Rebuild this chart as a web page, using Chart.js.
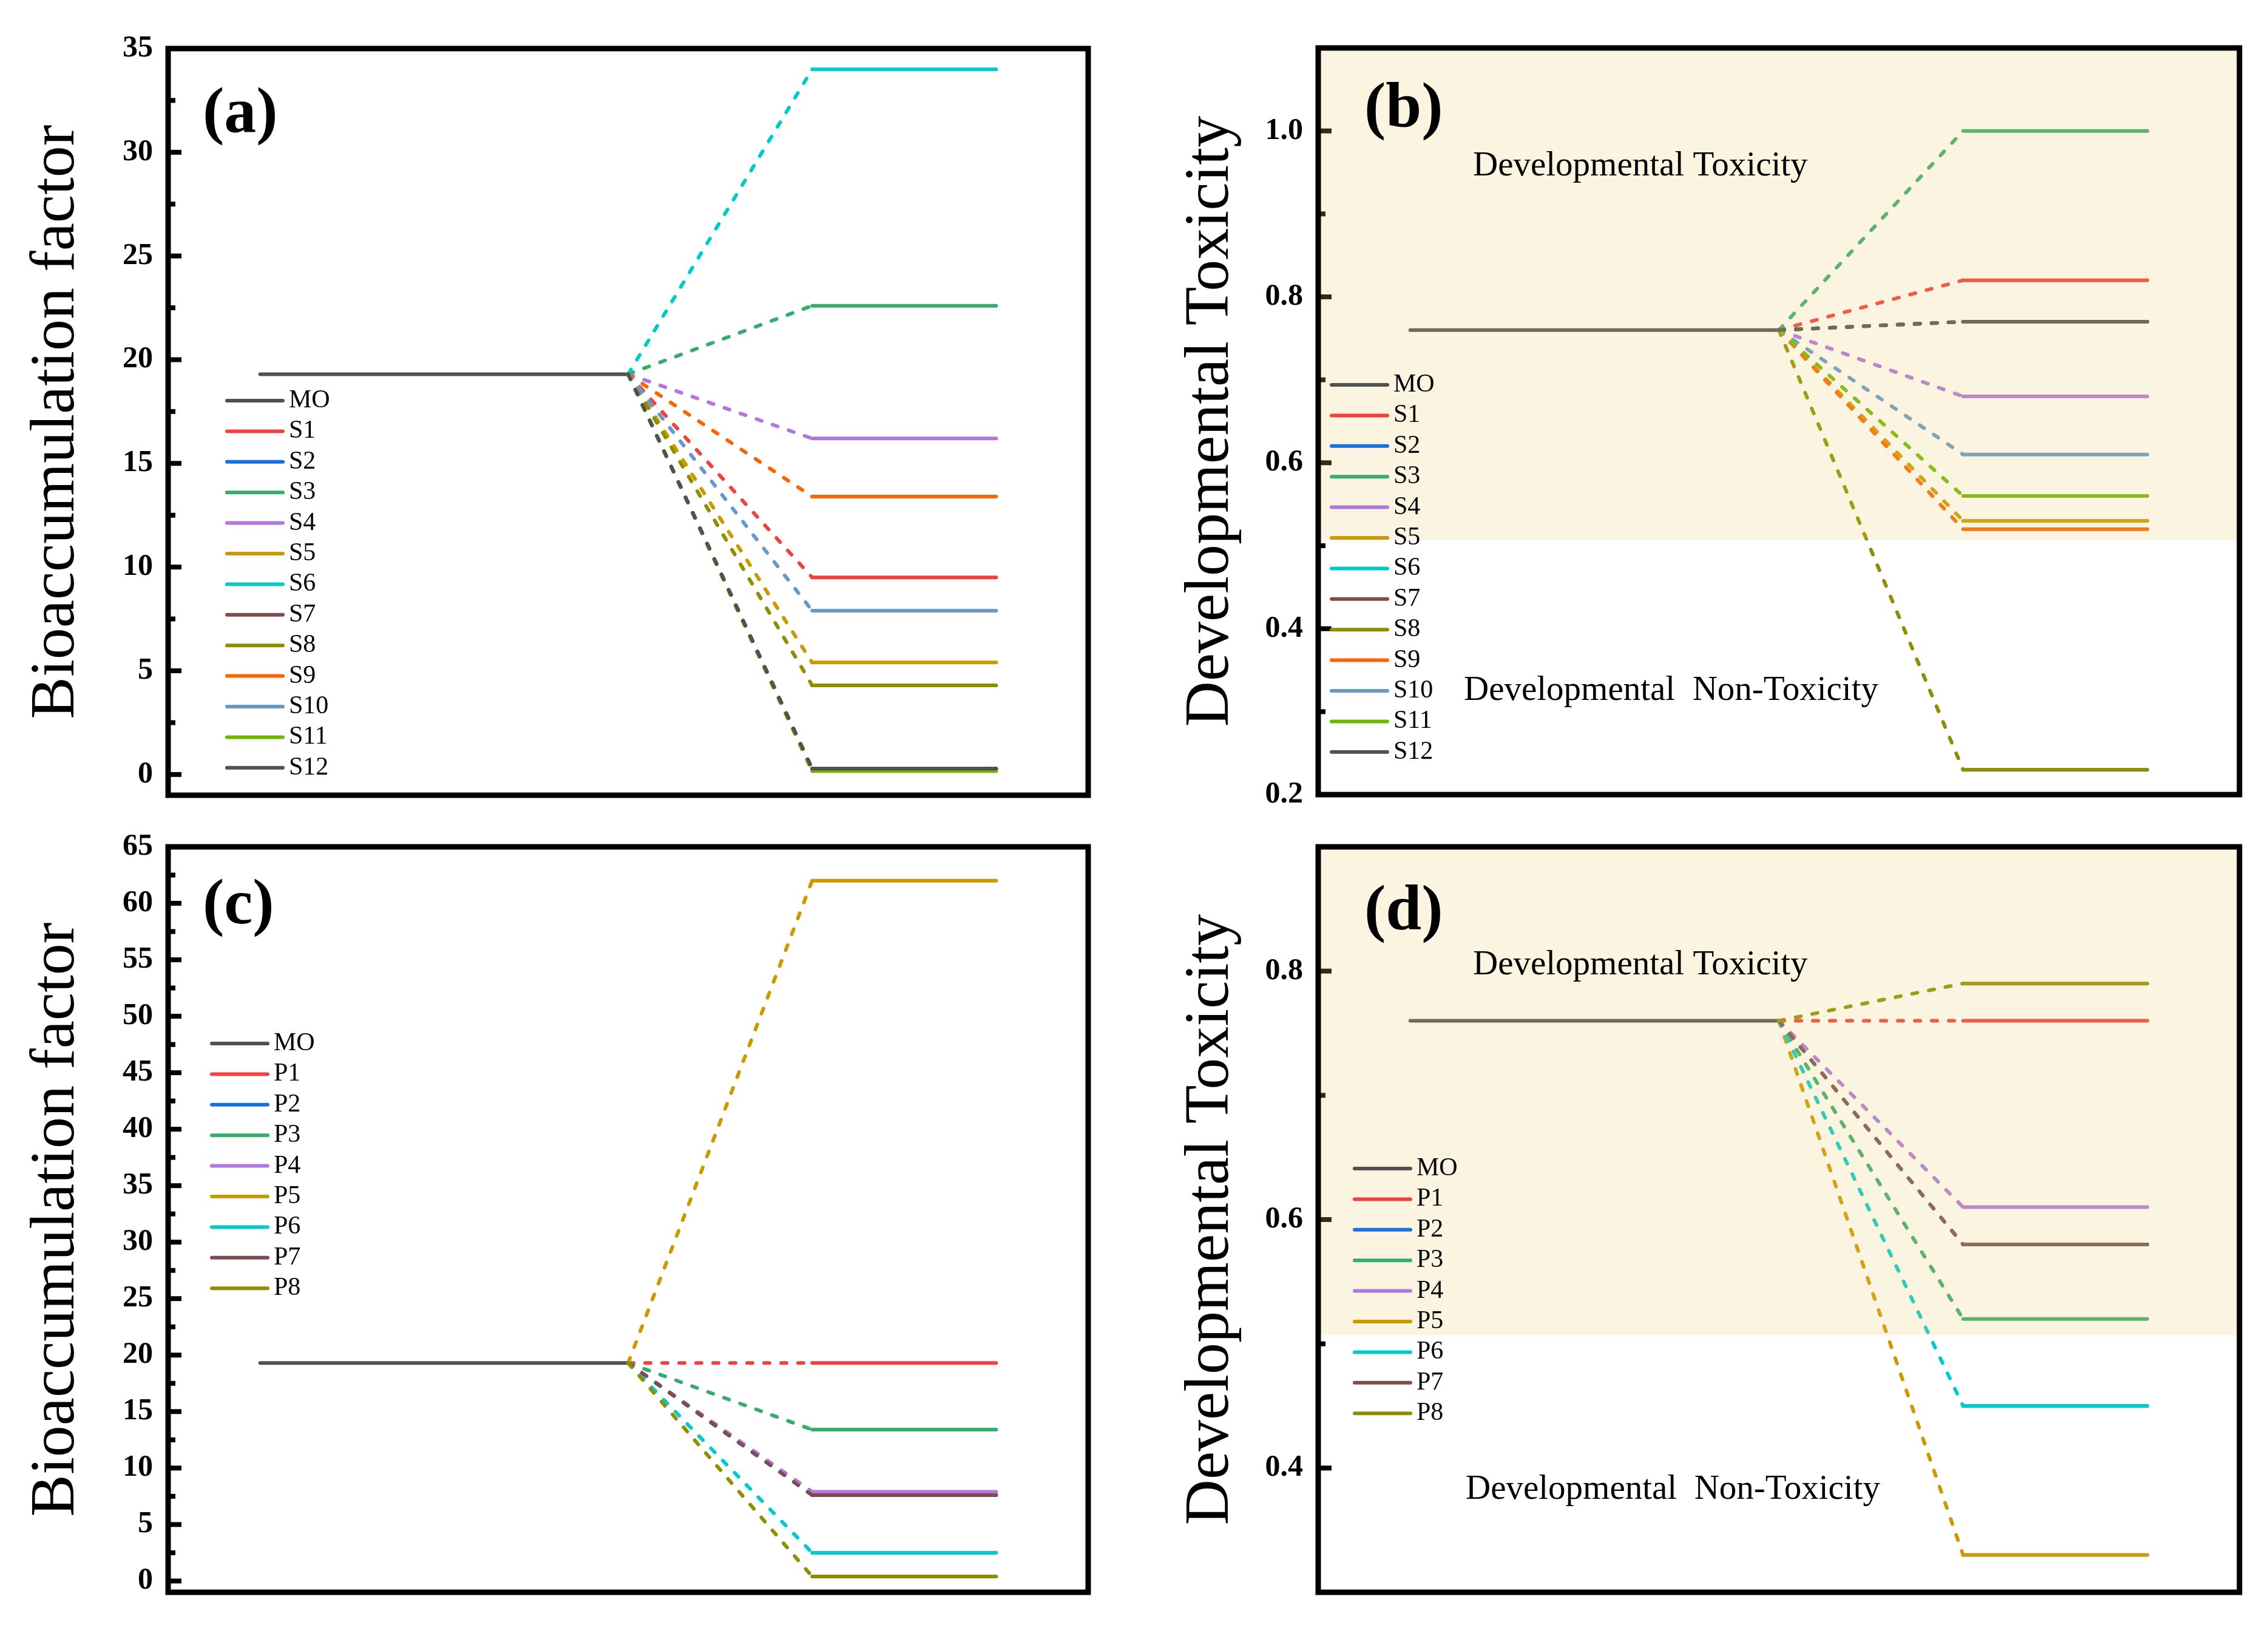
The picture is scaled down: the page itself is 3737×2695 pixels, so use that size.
<!DOCTYPE html>
<html>
<head>
<meta charset="utf-8">
<script src="https://cdn.jsdelivr.net/npm/chart.js@4.4.1/dist/chart.umd.min.js"></script>
<style>
  html, body { margin: 0; padding: 0; background: #fff; }
  body { width: 3737px; height: 2695px; position: relative; overflow: hidden; }
  canvas { position: absolute; }
</style>
</head>
<body>
<canvas id="pa" width="1868" height="1347" style="left:0;top:0"></canvas>
<canvas id="pb" width="1869" height="1347" style="left:1868px;top:0"></canvas>
<canvas id="pc" width="1868" height="1348" style="left:0;top:1347px"></canvas>
<canvas id="pd" width="1869" height="1348" style="left:1868px;top:1347px"></canvas>
<script>
// Origin-style colour list, MO first
const palette = ['#515151', '#F14040', '#1A6FDF', '#37AD6B', '#B177DE', '#CC9900',
  '#00CBCC', '#7D4E4E', '#8E8E00', '#FB6501', '#6699CC', '#6FB802', '#515151'];
// x stages: MO start, MO end / branch, product start, product end
const stageX = [1, 5, 7, 9];

const labelsS = ['MO', 'S1', 'S2', 'S3', 'S4', 'S5', 'S6', 'S7', 'S8', 'S9', 'S10', 'S11', 'S12'];
const bafS = [19.3, 9.5, 0.28, 22.6, 16.2, 5.4, 34.0, 0.28, 4.3, 13.4, 7.9, 0.16, 0.28];
const devS = [0.76, 0.82, 0.77, 1.0, 0.68, 0.53, 0.77, 0.77, 0.23, 0.52, 0.61, 0.56, 0.77];

const labelsP = ['MO', 'P1', 'P2', 'P3', 'P4', 'P5', 'P6', 'P7', 'P8'];
const bafP = [19.3, 19.3, 7.6, 13.4, 7.9, 62.0, 2.5, 7.6, 0.4];
const devP = [0.76, 0.76, 0.58, 0.52, 0.61, 0.33, 0.45, 0.58, 0.79];

const ticksBafS = [0, 5, 10, 15, 20, 25, 30, 35];
const minorBafS = [2.5, 7.5, 12.5, 17.5, 22.5, 27.5, 32.5];
const ticksBafP = [0, 5, 10, 15, 20, 25, 30, 35, 40, 45, 50, 55, 60, 65];
const minorBafP = [2.5, 7.5, 12.5, 17.5, 22.5, 27.5, 32.5, 37.5, 42.5, 47.5, 52.5, 57.5, 62.5];
const ticksDevS = [0.2, 0.4, 0.6, 0.8, 1.0];
const minorDevS = [0.3, 0.5, 0.7, 0.9];
const ticksDevP = [0.4, 0.6, 0.8];
const minorDevP = [0.5, 0.7];

const toxicLimit = 0.507;
const serif = '"Liberation Serif", "Times New Roman", serif';

function buildDatasets(labels, values) {
  const mo = values[0];
  return labels.map((name, i) => {
    const pts = i === 0
      ? [{x: stageX[0], y: mo}, {x: stageX[1], y: mo}]
      : [{x: stageX[1], y: mo}, {x: stageX[2], y: values[i]}, {x: stageX[3], y: values[i]}];
    return {
      label: name,
      data: pts,
      borderColor: palette[i],
      borderWidth: 6,
      borderCapStyle: 'round',
      borderDash: [],
      pointRadius: 0,
      order: -i, // later series on top
      segment: {
        borderDash: ctx => (i > 0 && ctx.p0DataIndex === 0) ? [9, 19] : []
      }
    };
  });
}

function decoPlugin(cfg) {
  return {
    id: 'panelDeco',
    afterDraw(chart) {
      const {ctx, chartArea: a} = chart;
      const y = chart.scales.y;
      const seg = (x1, y1, x2, y2) => { ctx.beginPath(); ctx.moveTo(x1, y1); ctx.lineTo(x2, y2); ctx.stroke(); };
      ctx.save();
      // inward ticks
      ctx.strokeStyle = '#000';
      ctx.lineCap = 'butt';
      ctx.lineWidth = 8;
      cfg.major.forEach(v => { const p = y.getPixelForValue(v); seg(a.left, p, a.left + 22, p); });
      cfg.minor.forEach(v => { const p = y.getPixelForValue(v); seg(a.left, p, a.left + 12, p); });
      // toxicity zone
      if (cfg.shade) {
        const p = y.getPixelForValue(toxicLimit);
        ctx.fillStyle = 'rgba(231, 201, 107, 0.21)';
        ctx.fillRect(a.left, a.top, a.right - a.left, p - a.top);
      }
      // frame
      ctx.lineWidth = 9;
      ctx.strokeRect(a.left, a.top, a.right - a.left, a.bottom - a.top);
      // notes
      ctx.fillStyle = '#000';
      ctx.textBaseline = 'middle';
      ctx.textAlign = 'left';
      ctx.font = '57px ' + serif;
      (cfg.notes || []).forEach(n => ctx.fillText(n.text, n.x, n.y));
      // panel tag
      ctx.font = 'bold 106px ' + serif;
      ctx.fillText(cfg.tag.text, cfg.tag.x, cfg.tag.y);
      // legend
      ctx.font = '42px ' + serif;
      ctx.lineCap = 'round';
      ctx.lineWidth = 6;
      chart.data.datasets.forEach((d, i) => {
        const ly = cfg.legend.y + i * cfg.legend.step;
        ctx.strokeStyle = d.borderColor;
        seg(cfg.legend.x, ly, cfg.legend.x + 92, ly);
        ctx.fillText(d.label, cfg.legend.x + 102, ly);
      });
      ctx.restore();
    }
  };
}

function makeChart(id, cfg) {
  return new Chart(document.getElementById(id), {
    type: 'line',
    data: {datasets: buildDatasets(cfg.labels, cfg.values)},
    options: {
      responsive: false,
      animation: false,
      events: [],
      layout: {padding: cfg.pad},
      plugins: {legend: {display: false}, tooltip: {enabled: false}},
      scales: {
        x: {type: 'linear', min: 0, max: 10, display: false},
        y: {
          type: 'linear', min: cfg.yMin, max: cfg.yMax,
          afterFit: s => { s.width = cfg.axisW; },
          afterBuildTicks: s => { s.ticks = cfg.major.map(v => ({value: v})); },
          grid: {display: false, drawTicks: false},
          border: {display: false},
          ticks: {
            color: '#000', padding: 25,
            font: {family: serif, size: 50, weight: 'bold', lineHeight: 0.4},
            callback: cfg.fmt
          },
          title: {
            display: true, text: cfg.title, color: '#000',
            font: {family: serif, size: 104, weight: 'normal', lineHeight: 1.2},
            padding: {top: cfg.titlePad, bottom: 0}
          }
        }
      }
    },
    plugins: [decoPlugin(cfg)]
  });
}

const intFmt = v => String(v);
const decFmt = v => Number(v).toFixed(1);

makeChart('pa', {
  labels: labelsS, values: bafS, yMin: -1, yMax: 35,
  major: ticksBafS, minor: minorBafS, fmt: intFmt,
  pad: {left: 0, top: 80, right: 75, bottom: 37}, axisW: 277, titlePad: 31,
  title: 'Bioaccumulation factor',
  tag: {text: '(a)', x: 334, y: 190},
  legend: {x: 374, y: 660, step: 50.4}
});

makeChart('pb', {
  labels: labelsS, values: devS, yMin: 0.2, yMax: 1.1,
  major: ticksDevS, minor: minorDevS, fmt: decFmt, shade: true,
  pad: {left: 0, top: 79, right: 47, bottom: 38}, axisW: 304, titlePad: 65,
  title: 'Developmental Toxicity',
  tag: {text: '(b)', x: 380, y: 182},
  notes: [{text: 'Developmental Toxicity', x: 559, y: 274},
          {text: 'Developmental  Non-Toxicity', x: 544, y: 1138}],
  legend: {x: 326, y: 634, step: 50.4}
});

makeChart('pc', {
  labels: labelsP, values: bafP, yMin: -1, yMax: 65,
  major: ticksBafP, minor: minorBafP, fmt: intFmt,
  pad: {left: 0, top: 48, right: 75, bottom: 72}, axisW: 277, titlePad: 31,
  title: 'Bioaccumulation factor',
  tag: {text: '(c)', x: 334, y: 147},
  legend: {x: 349, y: 372, step: 50.4}
});

makeChart('pd', {
  labels: labelsP, values: devP, yMin: 0.3, yMax: 0.9,
  major: ticksDevP, minor: minorDevP, fmt: decFmt, shade: true,
  pad: {left: 0, top: 48, right: 47, bottom: 72}, axisW: 304, titlePad: 65,
  title: 'Developmental Toxicity',
  tag: {text: '(d)', x: 380, y: 157},
  notes: [{text: 'Developmental Toxicity', x: 559, y: 243},
          {text: 'Developmental  Non-Toxicity', x: 547, y: 1107}],
  legend: {x: 364, y: 578, step: 50.4}
});
</script>
</body>
</html>
